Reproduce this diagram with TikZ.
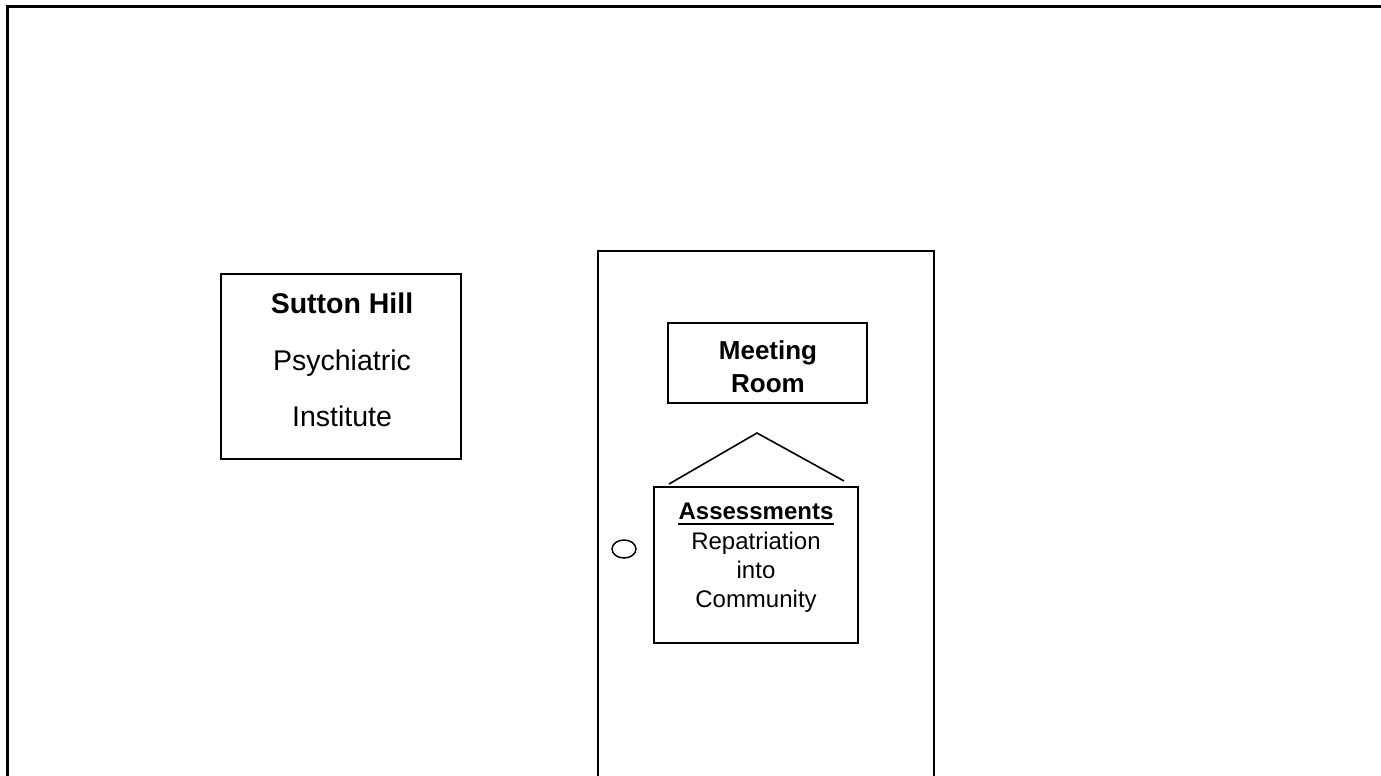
\documentclass[tikz,border=0pt]{standalone}
\usepackage{fontspec}
\setmainfont{Liberation Sans}
\usetikzlibrary{shapes.geometric}
\begin{document}
\begin{tikzpicture}[x=1pt,y=-1pt,
  wall/.style={line width=3pt},
  doorline/.style={line width=2pt},
  box/.style={draw, line width=1.7pt, inner sep=0pt},
  txt/.style={inner sep=0pt, anchor=base},
  big/.style={font=\fontsize{28.5}{34}\selectfont},
  mid/.style={font=\fontsize{26}{31}\selectfont\bfseries},
  small/.style={font=\fontsize{24}{29}\selectfont}]
\useasboundingbox (0,0) rectangle (1381,776);

% outer wall
\draw[wall] (7,780) -- (7,7) -- (1381,7);

% door frame
\draw[doorline] (598,780) -- (598,251) -- (934,251) -- (934,780);

% door knob
\node[draw, ellipse, line width=1.5pt, minimum width=24pt, minimum height=18pt, inner sep=0pt] (knob) at (624,549) {};

% building sign
\node[box, minimum width=240pt, minimum height=185pt] (sutton) at (341,366.5) {};
\node[txt, big] (sutton1) at (342,313) {\bfseries Sutton Hill};
\node[txt, big] (sutton2) at (342,370) {Psychiatric};
\node[txt, big] (sutton3) at (342,426) {Institute};

% meeting room sign
\node[box, minimum width=199pt, minimum height=80pt] (meeting) at (767.5,363) {};
\node[txt, mid] (meeting1) at (768,359) {Meeting};
\node[txt, mid] (meeting2) at (768,392) {Room};

% hanging sign and its cord
\coordinate (roofL) at (669,484);
\coordinate (apex) at (757,433);
\coordinate (roofR) at (844,481);
\draw[line width=1.6pt] (roofL) -- (apex) -- (roofR);
\node[box, minimum width=204pt, minimum height=156pt] (assess) at (756,565) {};
\node[txt, small] (assess1) at (756,519) {\bfseries Assessments};
\draw[line width=2pt] ([yshift=-5pt]assess1.base west) -- ([yshift=-5pt]assess1.base east);
\node[txt, small] (assess2) at (756,549) {Repatriation};
\node[txt, small] (assess3) at (756,578) {into};
\node[txt, small] (assess4) at (756,607) {Community};
\end{tikzpicture}
\end{document}
